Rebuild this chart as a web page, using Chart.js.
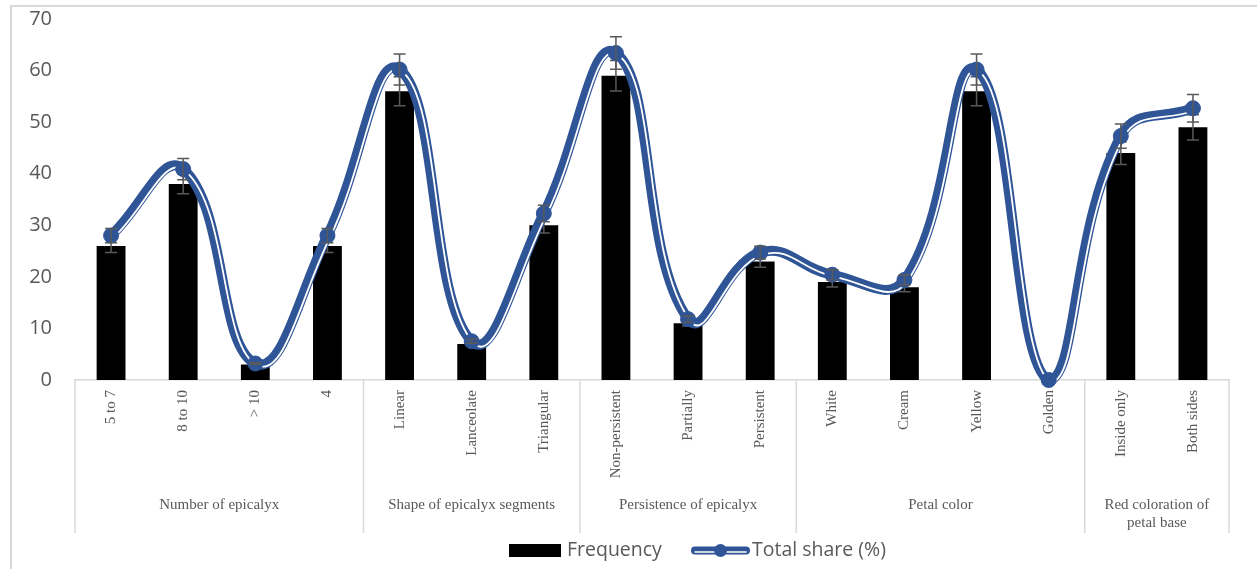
<!DOCTYPE html>
<html>
<head>
<meta charset="utf-8">
<script src="https://cdn.jsdelivr.net/npm/chart.js@4/dist/chart.umd.min.js"></script>
<style>
  html, body { margin: 0; padding: 0; background: #ffffff; overflow: hidden; }
  #wrap { position: relative; width: 1257px; height: 569px; }
  #frame { position: absolute; left: 10px; top: 5px; width: 1300px; height: 600px;
           border-left: 2px solid #d9d9d9; border-top: 2px solid #d9d9d9; box-sizing: border-box; }
  #c { position: absolute; left: 0; top: 0; }
</style>
</head>
<body>
<div id="wrap">
  <div id="frame"></div>
  <canvas id="c" width="1257" height="569"></canvas>
</div>
<script>
// ---- data ----
const categories = ['5 to 7', '8 to 10', '> 10', '4', 'Linear', 'Lanceolate', 'Triangular',
  'Non-persistent', 'Partially', 'Persistent', 'White', 'Cream', 'Yellow', 'Golden',
  'Inside only', 'Both sides'];
const groupLabels = [['Number of epicalyx'], ['Shape of epicalyx segments'],
  ['Persistence of epicalyx'], ['Petal color'], ['Red coloration of', 'petal base']];
const groupSizes = [4, 3, 3, 4, 2];
const frequency = [26, 38, 3, 26, 56, 7, 30, 59, 11, 23, 19, 18, 56, 0, 44, 49];
const totalShare = [28.0, 40.9, 3.2, 28.0, 60.2, 7.5, 32.3, 63.4, 11.8, 24.7, 20.4, 19.4, 60.2, 0, 47.3, 52.7];
const frequencyError = [1.3, 1.9, 0.15, 1.3, 2.8, 0.35, 1.5, 2.95, 0.55, 1.15, 0.95, 0.9, 2.8, 0, 2.2, 2.45];
const totalShareError = [1.4, 2.05, 0.16, 1.4, 3.0, 0.38, 1.6, 3.15, 0.6, 1.25, 1.0, 0.97, 3.0, 0, 2.35, 2.65];
const yMin = 0, yMax = 70, yStep = 10;
const seriesNames = ['Frequency', 'Total share (%)'];

// ---- styles ----
const BLUE = '#2F5597';
const GREY_TEXT = '#595959';
const AXIS_GREY = '#d9d9d9';
const ERR_GREY = '#595959';

function drawErrorBars(chart, values, errs) {
  const { ctx, scales: { x, y } } = chart;
  ctx.save();
  ctx.strokeStyle = ERR_GREY;
  ctx.lineWidth = 1.5;
  values.forEach((v, i) => {
    const e = errs[i];
    if (!e) return;
    const px = x.getPixelForValue(i);
    const top = y.getPixelForValue(v + e);
    const bot = y.getPixelForValue(v - e);
    ctx.beginPath();
    ctx.moveTo(px, top); ctx.lineTo(px, bot);
    ctx.moveTo(px - 6, top); ctx.lineTo(px + 6, top);
    ctx.moveTo(px - 6, bot); ctx.lineTo(px + 6, bot);
    ctx.stroke();
  });
  ctx.restore();
}

const customPlugin = {
  id: 'custom',
  beforeDatasetDraw(chart, args) {
    if (args.index === 2) { chart.ctx.save(); chart.ctx.translate(2.4, 2.0); }
  },
  afterDatasetDraw(chart, args) {
    if (args.index === 2) { chart.ctx.restore(); }
    if (args.index === 0) { drawErrorBars(chart, frequency, frequencyError); }
  },
  afterDatasetsDraw(chart) {
    drawErrorBars(chart, totalShare, totalShareError);
  },
  afterDraw(chart) {
    const { ctx, chartArea, scales: { x } } = chart;
    const n = categories.length;
    const cw = (chartArea.right - chartArea.left) / n;
    const axisY = chartArea.bottom;
    const lineBottom = 533;
    ctx.save();
    // group separators
    ctx.strokeStyle = AXIS_GREY;
    ctx.lineWidth = 1.5;
    let idx = 0;
    const bounds = [x.getPixelForValue(0) - cw / 2];
    groupSizes.forEach(s => { idx += s; bounds.push(x.getPixelForValue(idx - 1) + cw / 2); });
    bounds.forEach(bx => {
      ctx.beginPath(); ctx.moveTo(bx, axisY); ctx.lineTo(bx, lineBottom); ctx.stroke();
    });
    // group labels
    ctx.fillStyle = GREY_TEXT;
    ctx.font = '15px "Liberation Serif", "Times New Roman", serif';
    ctx.textAlign = 'center';
    ctx.textBaseline = 'middle';
    groupLabels.forEach((lines, g) => {
      const cx = (bounds[g] + bounds[g + 1]) / 2;
      lines.forEach((t, k) => ctx.fillText(t, cx, 505 + k * 18));
    });
    // legend
    const ly = 550.5;
    ctx.fillStyle = '#000000';
    ctx.fillRect(509, 544, 52, 13);
    ctx.font = '19.5px "Open Sans", sans-serif';
    ctx.textAlign = 'left';
    ctx.fillStyle = GREY_TEXT;
    ctx.fillText(seriesNames[0], 567, ly);
    const sx0 = 692, sx1 = 749;
    ctx.lineCap = 'round';
    ctx.strokeStyle = BLUE; ctx.lineWidth = 8;
    ctx.beginPath(); ctx.moveTo(sx0 + 3, ly); ctx.lineTo(sx1 - 3, ly); ctx.stroke();
    ctx.strokeStyle = '#ffffff'; ctx.lineWidth = 1.6;
    ctx.beginPath(); ctx.moveTo(sx0 + 3, ly + 1.5); ctx.lineTo(sx1 - 3, ly + 1.5); ctx.stroke();
    ctx.fillStyle = BLUE;
    ctx.beginPath(); ctx.arc((sx0 + sx1) / 2, ly, 6.5, 0, Math.PI * 2); ctx.fill();
    ctx.fillStyle = GREY_TEXT;
    ctx.fillText(seriesNames[1], 752, ly);
    ctx.restore();
  }
};

new Chart(document.getElementById('c'), {
  type: 'bar',
  data: {
    labels: categories,
    datasets: [
      { type: 'bar', label: seriesNames[0], data: frequency, backgroundColor: '#000000',
        categoryPercentage: 1.0, barPercentage: 0.4, order: 4 },
      { type: 'line', label: seriesNames[1], data: totalShare, borderColor: BLUE, borderWidth: 10,
        pointRadius: 0, tension: 0.45, fill: false, clip: false, order: 3 },
      { type: 'line', label: seriesNames[1] + ' inner', data: totalShare, borderColor: '#ffffff', borderWidth: 1.8,
        pointRadius: 0, tension: 0.45, fill: false, clip: false, order: 2 },
      { type: 'line', label: seriesNames[1] + ' markers', data: totalShare, showLine: false,
        pointRadius: 7.5, pointBackgroundColor: BLUE, pointBorderColor: BLUE, pointBorderWidth: 1,
        clip: false, order: 1 }
    ]
  },
  options: {
    responsive: false,
    animation: false,
    devicePixelRatio: 1,
    layout: { padding: { top: 19, right: 28, bottom: 0, left: 0 } },
    plugins: { legend: { display: false }, tooltip: { enabled: false } },
    scales: {
      x: {
        offset: true,
        grid: { display: false, drawTicks: false },
        border: { display: true, color: AXIS_GREY, width: 1.5 },
        ticks: {
          autoSkip: false, minRotation: 90, maxRotation: 90, padding: 10,
          color: GREY_TEXT, font: { family: '"Liberation Serif", "Times New Roman", serif', size: 15 }
        },
        afterFit(scale) { scale.height = 189; }
      },
      y: {
        min: yMin, max: yMax,
        grid: { display: false, drawTicks: false },
        border: { display: false },
        ticks: { stepSize: yStep, padding: 23, color: GREY_TEXT,
          font: { family: '"Open Sans", sans-serif', size: 20 } },
        afterFit(scale) { scale.width = 75; scale.paddingTop = 0; scale.paddingBottom = 0; }
      }
    }
  },
  plugins: [customPlugin]
});
</script>
</body>
</html>
